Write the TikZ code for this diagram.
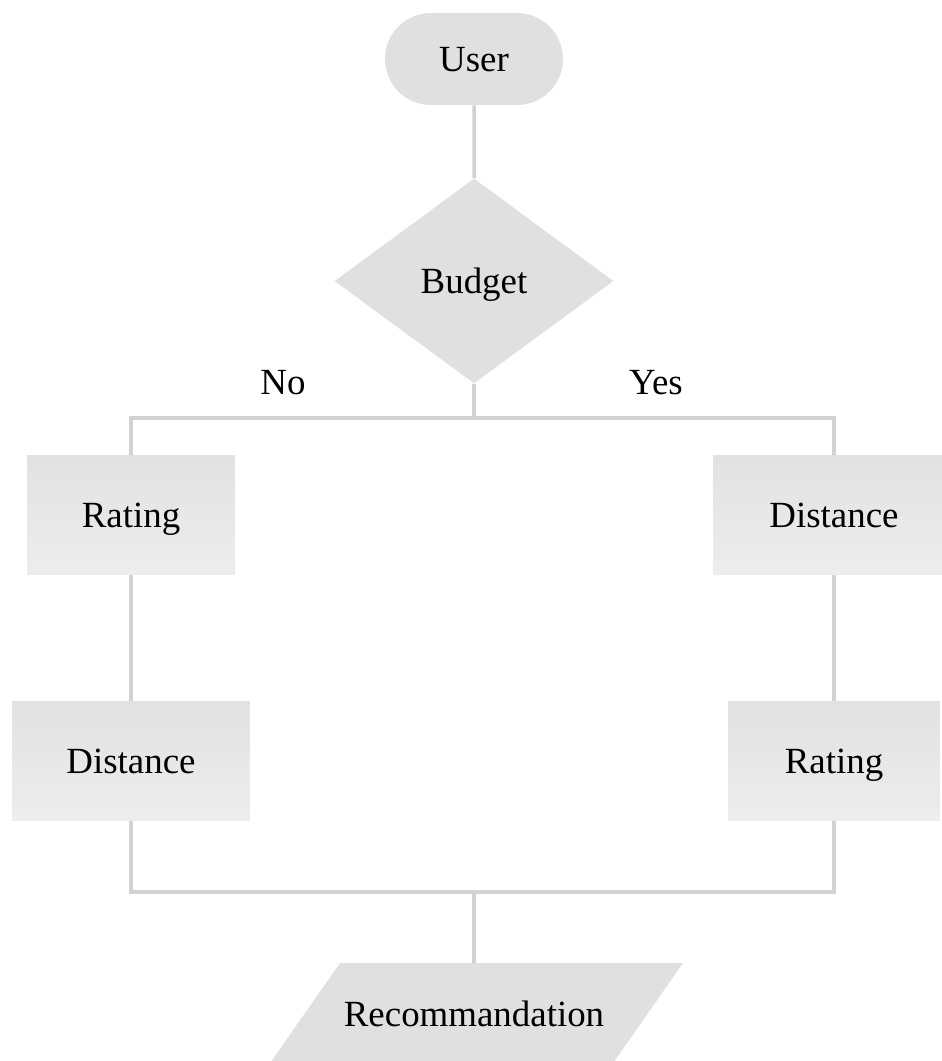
\documentclass[tikz,border=0pt]{standalone}
\usepackage{fontspec}
\setmainfont{Liberation Serif}
\usepackage{tikz}
\usetikzlibrary{shapes.geometric,shapes.misc}
\definecolor{boxgray}{HTML}{E0E0E0}
\definecolor{boxtop}{HTML}{E2E2E2}
\definecolor{boxbot}{HTML}{EDEDED}
\definecolor{linegray}{HTML}{D2D2D2}

\begin{document}
\begin{tikzpicture}[x=0.02cm,y=-0.02cm,
    every node/.style={inner sep=0pt,text height=16.8pt,text depth=2.7pt,
      font=\fontsize{21}{25}\selectfont},
    startbox/.style={rounded rectangle,fill=boxgray,minimum width=3.56cm,minimum height=1.84cm},
    testbox/.style={diamond,fill=boxgray,minimum width=5.58cm,minimum height=4.1cm},
    critbox/.style={rectangle,top color=boxtop,bottom color=boxbot,minimum height=2.38cm},
    outbox/.style={rectangle,minimum width=3.4cm,minimum height=2.06cm},
    link/.style={draw=linegray,line width=2pt}]
    \useasboundingbox (0,0) rectangle (941,1061);
    \node[startbox] (user) at (474,59) {User};
    \node[testbox] (budget) at (474,281) {Budget};
    \coordinate (split) at (474,418);
    \node (no) at (283,382) {No};
    \node (yes) at (656,382) {Yes};
    \node[critbox,minimum width=4.16cm] (ratingl) at (131,515) {Rating};
    \node[critbox,minimum width=4.76cm] (distl) at (131,761) {Distance};
    \node[critbox,minimum width=4.84cm] (distr) at (834,515) {Distance};
    \node[critbox,minimum width=4.24cm] (ratingr) at (834,761) {Rating};
    \coordinate (merge) at (474,892);
    \fill[boxgray] (340,963) -- (683,963) -- (611,1066) -- (268,1066) -- cycle;
    \node[outbox] (reco) at (474,1014.5) {Recommandation};
    \draw[link] (user) -- (budget);
    \draw[link] (budget) -- (split);
    \draw[link] (split) -| (ratingl);
    \draw[link] (split) -| (distr);
    \draw[link] (ratingl) -- (distl);
    \draw[link] (distr) -- (ratingr);
    \draw[link] (distl) |- (merge);
    \draw[link] (ratingr) |- (merge);
    \draw[link] (merge) -- (reco);
\end{tikzpicture}
\end{document}
